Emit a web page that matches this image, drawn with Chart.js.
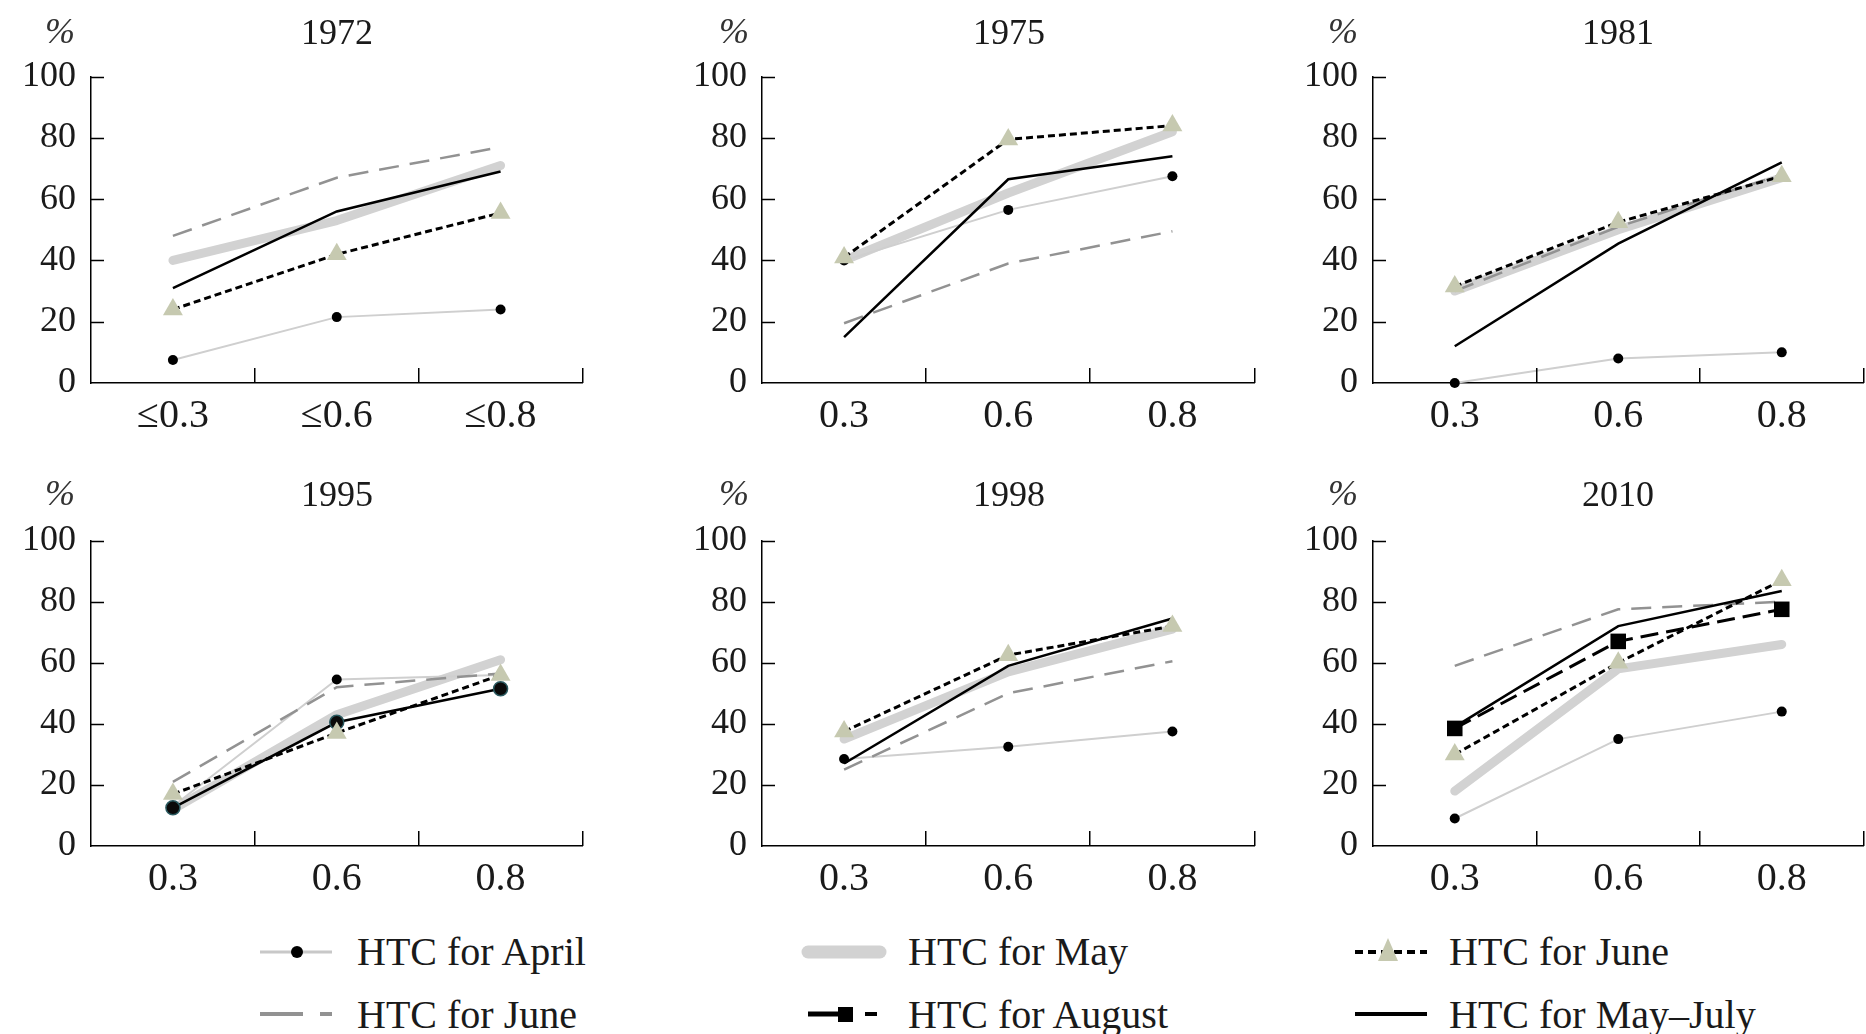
<!DOCTYPE html>
<html>
<head>
<meta charset="utf-8">
<script src="https://cdn.jsdelivr.net/npm/chart.js@4"></script>
<style>
  html, body { margin:0; padding:0; background:#fff; }
  body { width:1866px; height:1034px; position:relative; overflow:hidden; font-family:"Liberation Serif", "DejaVu Serif", serif; color:#1a1a1a; }
  canvas { position:absolute; }
  .lbl { position:absolute; line-height:1; white-space:nowrap; transform:translate(-50%,-50%); }
  .title { font-size:36px; }
  .pct { font-size:36px; font-style:italic; color:#333; }
  .leg { position:absolute; font-size:40px; line-height:1; white-space:nowrap; transform:translateY(-50%); }
</style>
</head>
<body>
<svg id="legsym" width="1866" height="1034" style="position:absolute;left:0;top:0;pointer-events:none"></svg>
<script>
// ---------------- DATA ----------------
const years = ['1972', '1975', '1981', '1995', '1998', '2010'];
const categories = ['0.3', '0.6', '0.8'];
const categories1972 = ['\u22640.3', '\u22640.6', '\u22640.8'];
const yTicks = [0, 20, 40, 60, 80, 100];

// values per panel (1972, 1975, 1981, 1995, 1998, 2010)
const aprilValues     = [[7.5, 21.5, 24], [40, 56.5, 67.5], [0, 8, 10], [13, 54.5, 56], [28.5, 32.5, 37.5], [9, 35, 44]];
const mayValues       = [[40, 53, 71], [40, 62, 82], [30, 50, 67], [12, 43, 61], [35, 57, 71], [18, 58, 66]];
const juneTriValues   = [[24, 42, 55.5], [41, 79.5, 84], [31.5, 52.5, 67.5], [17, 37, 56], [37.5, 62.5, 72], [30, 60, 87]];
const juneDashValues  = [[48, 67, 77], [19.5, 39, 49.5], [30, 51, 68], [21, 52, 56.5], [25, 50, 60.5], [59, 77.5, 80]];
const augustValues    = [null, null, null, null, null, [38.5, 67, 77.5]];
const mayJulyValues   = [[31, 56, 69], [15, 66.5, 74], [12, 45.5, 72], [12.5, 40.5, 51.5], [27, 59, 74.5], [39, 72, 83.5]];
const legendLabels = ['HTC for April', 'HTC for May', 'HTC for June', 'HTC for June', 'HTC for August', 'HTC for May\u2013July'];

// ---------------- LAYOUT ----------------
const cols = [{l: 91, r: 582}, {l: 762, r: 1254}, {l: 1373, r: 1863}];
const rows = [{t: 77, b: 383}, {t: 541, b: 846}];
const titlePos = [[337, 32], [1009, 32], [1618, 32], [337, 494], [1009, 494], [1618, 494]];
const pctPos = [[60, 31], [734, 31], [1343, 31], [60, 493], [734, 493], [1343, 493]];
const YW = 90, PT = 22, PR = 3, XH = 62;
const FONT = "'Liberation Serif', 'Times New Roman', serif";

const tickMarks = {
  id: 'tickMarks',
  afterDraw(chart) {
    const ctx = chart.ctx, a = chart.chartArea;
    const ys = chart.scales.y, xs = chart.scales.x;
    ctx.save();
    ctx.strokeStyle = '#000';
    ctx.lineWidth = 1.5;
    ctx.beginPath();
    yTicks.forEach(v => {
      if (v === 0) return;
      const py = Math.round(ys.getPixelForValue(v)) + 0.5;
      ctx.moveTo(a.left, py); ctx.lineTo(a.left + 13, py);
    });
    const n = xs.ticks.length;
    for (let i = 0; i < n; i++) {
      let px;
      if (i < n - 1) px = (xs.getPixelForTick(i) + xs.getPixelForTick(i + 1)) / 2;
      else px = a.right;
      px = Math.round(px) - 0.25;
      ctx.moveTo(px, a.bottom); ctx.lineTo(px, a.bottom - 15);
    }
    ctx.stroke();
    ctx.restore();
  }
};

function buildDatasets(i) {
  const tri = '#c6c9b0';
  const ds = [];
  ds.push({ label: legendLabels[1], data: mayValues[i], borderColor: '#d2d2d2', borderWidth: 9,
            pointRadius: 0, order: 10, borderCapStyle: 'round', borderJoinStyle: 'round' });
  ds.push({ label: legendLabels[0], data: aprilValues[i], borderColor: '#cfcfcf', borderWidth: 2,
            pointRadius: 5, pointBackgroundColor: '#000', pointBorderColor: '#000', pointBorderWidth: 0, order: 9 });
  ds.push({ label: legendLabels[3], data: juneDashValues[i], borderColor: '#929292', borderWidth: 2.5,
            borderDash: [20, 11], pointRadius: 0, order: 8 });
  const mjPts = (years[i] === '1995') ? 7 : 0;
  ds.push({ label: legendLabels[5], data: mayJulyValues[i], borderColor: '#000', borderWidth: 2.5,
            pointRadius: mjPts, pointBackgroundColor: '#0a0a0a', pointBorderColor: '#2b5a60', pointBorderWidth: 1.5, order: 7 });
  if (augustValues[i]) {
    ds.push({ label: legendLabels[4], data: augustValues[i], borderColor: '#000', borderWidth: 3,
              borderDash: [18, 8], pointStyle: 'rect', pointRadius: 11, pointBackgroundColor: '#000',
              pointBorderColor: '#000', pointBorderWidth: 0, order: 6 });
  }
  ds.push({ label: legendLabels[2], data: juneTriValues[i], borderColor: '#000', borderWidth: 3,
            borderDash: [7, 4], pointStyle: 'triangle', pointRadius: 11.5, pointBackgroundColor: tri,
            pointBorderColor: tri, pointBorderWidth: 0, order: 5 });
  ds.forEach(d => { d.clip = false; d.tension = 0; d.fill = false; });
  return ds;
}

function createChart(i, left, top, w, h) {
  const cv = document.createElement('canvas');
  cv.width = w; cv.height = h;
  cv.style.left = left + 'px'; cv.style.top = top + 'px';
  cv.style.width = w + 'px'; cv.style.height = h + 'px';
  document.body.appendChild(cv);
  const chart = new Chart(cv, {
    type: 'line',
    data: { labels: i === 0 ? categories1972 : categories, datasets: buildDatasets(i) },
    options: {
      responsive: false, maintainAspectRatio: false, animation: false, events: [],
      layout: { padding: { top: PT, right: PR, left: 0, bottom: 0 } },
      plugins: { legend: { display: false }, tooltip: { enabled: false }, title: { display: false } },
      scales: {
        x: {
          type: 'category', offset: true,
          grid: { display: false, drawTicks: false },
          border: { display: true, color: '#000', width: 1.5 },
          ticks: { font: { family: FONT, size: 40 }, color: '#1a1a1a', padding: 9, maxRotation: 0, autoSkip: false },
          afterFit: s => { s.height = XH; }
        },
        y: {
          min: 0, max: 100,
          afterBuildTicks: s => { s.ticks = yTicks.map(v => ({ value: v })); },
          grid: { display: false, drawTicks: false },
          border: { display: true, color: '#000', width: 1.5 },
          ticks: { font: { family: FONT, size: 36 }, color: '#1a1a1a', padding: 15 },
          afterFit: s => { s.width = YW; }
        }
      }
    },
    plugins: [tickMarks]
  });
  return { chart, cv };
}

function makePanel(i) {
  const col = cols[i % 3], row = rows[Math.floor(i / 3)];
  // first pass: measure where the library puts the plot area inside the canvas
  const probe = createChart(i, 0, 0, 600, 420);
  const a = probe.chart.chartArea;
  const offL = a.left, offT = a.top, offR = 600 - a.right, offB = 420 - a.bottom;
  probe.chart.destroy(); probe.cv.remove();
  const left = col.l - offL, top = row.t - offT;
  const w = Math.round(col.r - left + offR), h = Math.round(row.b - top + offB);
  createChart(i, left, top, w, h);

  const t = document.createElement('div');
  t.className = 'lbl title'; t.textContent = years[i];
  t.style.left = titlePos[i][0] + 'px'; t.style.top = titlePos[i][1] + 'px';
  document.body.appendChild(t);
  const p = document.createElement('div');
  p.className = 'lbl pct'; p.textContent = '%';
  p.style.left = pctPos[i][0] + 'px'; p.style.top = pctPos[i][1] + 'px';
  document.body.appendChild(p);
}
for (let i = 0; i < years.length; i++) makePanel(i);

// ---------------- LEGEND ----------------
const legText = [[357, 952, 0], [908, 952, 1], [1449, 952, 2], [357, 1015, 3], [908, 1015, 4], [1449, 1015, 5]];
legText.forEach(([x, y, k]) => {
  const d = document.createElement('div');
  d.className = 'leg'; d.textContent = legendLabels[k];
  d.style.left = x + 'px'; d.style.top = y + 'px';
  document.body.appendChild(d);
});
const svg = document.getElementById('legsym');
svg.innerHTML = `
  <line x1="260" y1="952" x2="332" y2="952" stroke="#c8c8c8" stroke-width="3"/>
  <circle cx="297" cy="952" r="6" fill="#000"/>
  <line x1="260" y1="1014" x2="303" y2="1014" stroke="#929292" stroke-width="4"/>
  <line x1="320" y1="1014" x2="332" y2="1014" stroke="#929292" stroke-width="4"/>
  <line x1="808" y1="952" x2="880" y2="952" stroke="#d2d2d2" stroke-width="13" stroke-linecap="round"/>
  <line x1="808" y1="1014" x2="840" y2="1014" stroke="#000" stroke-width="5"/>
  <rect x="838" y="1007" width="15" height="15" fill="#000"/>
  <line x1="865" y1="1014" x2="877" y2="1014" stroke="#000" stroke-width="4"/>
  <line x1="1355" y1="952" x2="1427" y2="952" stroke="#000" stroke-width="4" stroke-dasharray="8,5"/>
  <polygon points="1388,938 1378,961 1398,961" fill="#c6c9b0"/>
  <line x1="1355" y1="1014" x2="1427" y2="1014" stroke="#000" stroke-width="4"/>
`;
</script>
</body>
</html>
